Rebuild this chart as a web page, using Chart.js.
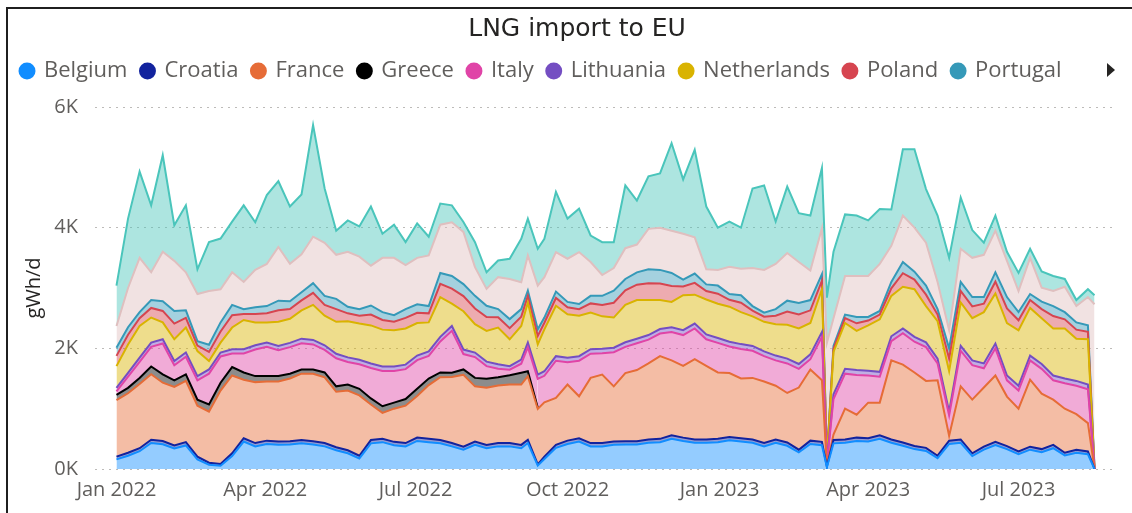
<!DOCTYPE html>
<html>
<head>
<meta charset="utf-8">
<script src="https://cdn.jsdelivr.net/npm/chart.js@4.4.1/dist/chart.umd.min.js"></script>
<style>
  html, body { margin: 0; padding: 0; background: #fff; }
  #wrap { position: relative; width: 1132px; height: 513px; overflow: hidden; }
  #wrap canvas { position: absolute; left: 0; top: 0; }
  #frame { position: absolute; left: 6px; top: 7px; right: -4px; bottom: -4px;
           border-top: 2px solid #1f1f1f; border-left: 2px solid #1f1f1f; pointer-events: none; }
</style>
</head>
<body>
<div id="wrap">
  <canvas id="chart" width="1132" height="513"></canvas>
  <div id="frame"></div>
</div>
<script>
// days since 1 Jan 2022
const days = [0,7,14,21,28,35,42,49,56,63, 70,77,84,91,98,105,112,119,126,133,
  140,147,154,161,168,175,182,189,196,203, 210,217,224,231,238,245,249,255,259,266,
  273,280,287,294,301,308,315,322,329,336, 343,350,357,364,371,378,385,392,399,406,
  413,420,427,430,434,441,448,455,462,469, 476,483,490,497,504,511,518,525,532,539,
  546,553,560,567,574,581,588,592];

const tickDays = [0, 90, 181, 273, 365, 455, 546];
const tickLabels = ["Jan 2022", "Apr 2022", "Jul 2022", "Oct 2022", "Jan 2023", "Apr 2023", "Jul 2023"];

// gWh/d per country
const belgium = [160,220,295,430,410,340,390,160,70,55, 215,455,375,415,400,405,425,405,375,310,
  260,175,425,445,395,375,465,445,425,375, 320,400,345,375,375,345,430,58,165,350,
  415,455,375,375,400,405,405,435,445,500, 465,435,435,445,475,455,435,375,435,385,
  275,415,395,30,425,435,465,455,500,435, 385,330,300,180,415,435,215,320,395,330,
  245,320,280,345,225,270,245,0];
const croatia = [45,50,50,55,55,50,55,45,35,30, 45,55,55,55,55,55,55,55,55,50,
  50,45,55,55,55,55,55,55,55,55, 50,55,55,55,55,55,55,20,40,50,
  55,55,55,55,55,55,55,55,55,60, 55,55,55,55,55,55,55,55,55,55,
  45,55,55,10,55,55,55,55,60,55, 55,50,50,40,55,55,45,50,55,50,
  45,50,50,55,45,50,45,0];
const france = [935,985,1065,1085,965,970,1015,845,845,1215, 1290,970,1010,980,995,1040,1100,1120,1090,920,
  990,1000,590,430,550,620,690,890,1040,1095, 1190,915,945,955,970,1000,1055,917,900,780,
  930,695,1080,1135,915,1130,1180,1260,1370,1240, 1190,1330,1220,1100,1060,990,1020,1020,890,820,
  1030,1180,1020,20,90,510,380,590,540,1310, 1290,1220,1110,1250,80,880,890,980,1100,820,
  710,1110,920,750,730,590,470,0];
const greece = [90,90,100,130,140,110,110,100,120,130, 140,120,100,90,90,80,70,70,80,90,
  100,110,100,110,100,110,120,110,80,70, 90,140,150,135,155,195,80,25,0,0,
  0,0,0,0,0,0,0,0,0,0, 0,0,0,0,0,0,0,0,0,0,
  0,0,0,0,0,0,0,0,0,0, 0,0,0,0,0,0,0,0,0,0,
  0,0,0,0,0,0,0,0];
const italy = [55,185,265,325,510,250,290,320,510,435, 225,315,440,485,430,440,435,415,375,465,
  375,405,505,585,525,495,475,375,515,695, 255,345,210,140,90,150,400,475,440,615,
  370,590,400,355,565,435,445,395,375,470, 510,510,440,490,440,490,450,420,420,490,
  310,170,720,30,590,580,660,450,430,320, 520,510,560,280,340,590,570,320,450,270,
  300,320,410,320,420,470,560,0];
const lithuania = [60,65,70,70,70,70,70,70,70,65, 70,70,70,70,70,70,75,75,75,75,
  75,75,75,75,75,75,75,75,75,80, 75,75,75,75,60,70,75,70,75,75,
  75,75,75,75,75,75,75,75,75,80, 80,80,80,80,80,80,80,80,80,80,
  80,80,80,10,80,80,80,80,80,80, 80,80,80,80,60,80,80,80,80,80,
  80,80,80,80,80,80,80,0];
const netherlands = [360,470,525,415,280,360,415,415,140,165, 360,485,380,335,400,400,470,580,490,530,
  600,600,630,610,600,600,540,480,660,370, 635,470,510,610,445,555,665,500,695,835,
  720,670,610,535,500,620,640,580,480,420, 580,480,580,570,580,530,490,490,520,560,
  590,520,710,40,700,760,650,750,870,670, 690,790,600,620,670,720,700,850,830,870,
  920,790,760,780,830,700,750,0];
const poland = [170,160,130,160,190,260,160,90,150,185, 205,100,140,150,190,160,165,200,180,210,
  130,130,180,160,140,175,170,150,220,250, 250,260,230,170,185,155,110,140,110,130,
  115,110,150,190,245,240,255,280,275,265, 145,195,140,165,115,155,95,85,140,220,
  230,210,140,20,55,80,125,80,80,125, 225,160,190,110,210,190,195,140,195,240,
  165,130,150,205,150,150,125,0];
const portugal = [135,125,100,130,160,210,125,75,120,150, 170,80,110,120,160,130,135,160,150,170,
  110,110,150,130,110,145,140,120,180,210, 200,210,185,135,150,125,85,110,85,105,
  90,85,125,150,200,190,205,230,225,215, 115,155,110,135,95,125,75,65,110,180,
  190,170,110,20,45,60,105,60,60,105, 185,130,150,90,170,150,155,110,155,190,
  135,100,125,165,120,120,105,30];
const spain = [360,650,900,460,820,830,630,780,890,550, 540,450,620,700,890,620,630,770,880,730,
  910,870,660,900,950,730,770,840,800,890, 865,475,280,530,665,445,585,725,670,655,
  715,860,560,345,375,510,460,670,700,700, 760,600,250,260,450,440,630,710,750,790,
  680,490,760,1910,460,640,680,680,780,600, 770,730,710,450,300,550,650,700,690,600,
  350,600,230,250,420,270,470,2700];
const uk = [670,1150,1430,1110,1600,590,1110,410,810,840, 840,1270,790,1140,1090,950,990,1850,900,400,
  520,500,980,400,550,380,570,310,350,280, 165,415,275,275,335,720,610,610,635,1000,
  665,720,440,545,430,1040,730,870,900,1450, 900,1450,1040,700,750,680,1320,1400,700,1100,
  810,910,1000,750,1100,1020,1000,920,910,600, 1100,1300,890,1100,1200,850,460,200,250,150,
  300,150,270,250,130,100,130,150];

const series = [
  ["Belgium", belgium, "#118DFF"],
  ["Croatia", croatia, "#12239E"],
  ["France", france, "#E66C37"],
  ["Greece", greece, "#000000"],
  ["Italy", italy, "#E044A7"],
  ["Lithuania", lithuania, "#744EC2"],
  ["Netherlands", netherlands, "#D9B300"],
  ["Poland", poland, "#D64550"],
  ["Portugal", portugal, "#3599B8"],
  ["Spain", spain, "#DFBFBF"],
  ["United Kingdom", uk, "#4AC5BB"],
];
const shownInLegend = 9;

function fade(hex, a) {
  const n = parseInt(hex.slice(1), 16);
  return `rgba(${n >> 16}, ${(n >> 8) & 255}, ${n & 255}, ${a})`;
}

const datasets = series.map(([label, values, color], i) => {
  const ds = {
    label,
    data: values.map((v, j) => ({ x: days[j], y: v })),
    borderColor: color,
    backgroundColor: fade(color, 0.45),
    borderWidth: 2,
    pointRadius: 0,
    tension: 0,
    fill: i === 0 ? "origin" : "-1",
  };
  if (label === "Greece") {
    // no Greek data after Sep 2022: hide the line there
    ds.segment = { borderColor: (c) => (values[c.p1DataIndex] === 0 ? "rgba(0,0,0,0)" : undefined) };
  }
  return ds;
});

const textFont = "'Open Sans'";

const heading = {
  id: "heading",
  beforeInit(chart) {
    const fit = chart.legend.fit;
    chart.legend.fit = function () { fit.call(this); this.height += 15; };
  },
  afterDraw(chart) {
    const c = chart.ctx;
    c.save();
    c.fillStyle = "#252423";
    c.font = "25px 'DejaVu Sans'";
    c.textAlign = "center";
    c.textBaseline = "alphabetic";
    c.fillText("LNG import to EU", 577, 36);
    c.beginPath();
    c.moveTo(1107, 63);
    c.lineTo(1115, 70);
    c.lineTo(1107, 77);
    c.closePath();
    c.fill();
    c.restore();
  },
};

new Chart(document.getElementById("chart").getContext("2d"), {
  type: "line",
  data: { datasets },
  options: {
    responsive: false,
    animation: false,
    layout: { padding: { top: 46, left: 7, right: 16, bottom: 0 } },
    plugins: {
      title: { display: false },
      tooltip: { enabled: false },
      legend: {
        position: "top",
        align: "start",
        labels: {
          color: "#605E5C",
          font: { family: textFont, size: 22 },
          usePointStyle: true,
          pointStyle: "circle",
          boxWidth: 12,
          boxHeight: 12,
          padding: 14,
          generateLabels(chart) {
            return Chart.defaults.plugins.legend.labels.generateLabels(chart)
              .filter((it) => it.datasetIndex < shownInLegend)
              .map((it) => ({ ...it, fillStyle: it.strokeStyle, lineWidth: 0 }));
          },
        },
      },
    },
    scales: {
      x: {
        type: "linear",
        min: -13,
        max: 605,
        grid: { display: false, drawTicks: false },
        border: { display: false },
        afterBuildTicks: (s) => { s.ticks = tickDays.map((v) => ({ value: v })); },
        afterFit: (s) => { s.height = 44; },
        ticks: {
          autoSkip: false,
          maxRotation: 0,
          padding: 9,
          color: "#605E5C",
          font: { family: textFont, size: 20 },
          callback: (v) => tickLabels[tickDays.indexOf(v)],
        },
      },
      y: {
        stacked: true,
        min: 0,
        max: 6000,
        border: { display: false, dash: [2, 5] },
        grid: { color: "#BDBBB9", lineWidth: 1, drawTicks: false },
        afterFit: (s) => { s.width = 88; },
        ticks: {
          stepSize: 2000,
          padding: 17,
          color: "#605E5C",
          font: { family: textFont, size: 20 },
          callback: (v) => v / 1000 + "K",
        },
        title: {
          display: true,
          text: "gWh/d",
          color: "#252423",
          font: { family: textFont, size: 20 },
          padding: { top: 15, bottom: 0 },
        },
      },
    },
  },
  plugins: [heading],
});
</script>
</body>
</html>
